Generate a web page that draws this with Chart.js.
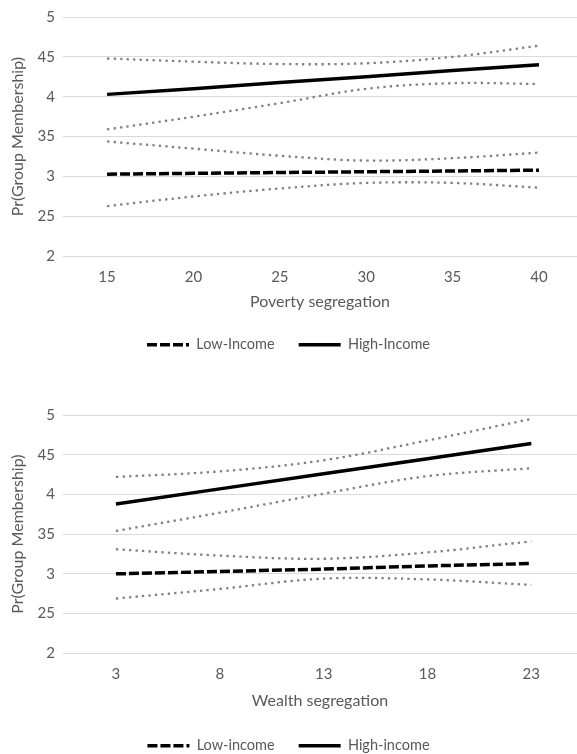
<!DOCTYPE html>
<html>
<head>
<meta charset="utf-8">
<script src="https://cdn.jsdelivr.net/npm/chart.js@4.4.1/dist/chart.umd.min.js"></script>
<style>
    html, body { margin: 0; padding: 0; background: #fff; }
    body { width: 577px; height: 754px; position: relative; overflow: hidden; }
    .panel { position: absolute; left: 0; width: 577px; }
    #panel-pobreza { top: 0; height: 362px; }
    #panel-riqueza { top: 395px; height: 368px; }
</style>
</head>
<body>
<div class="panel" id="panel-pobreza"><canvas id="grafico-pobreza"></canvas></div>
<div class="panel" id="panel-riqueza"><canvas id="grafico-riqueza"></canvas></div>
<script>
// eje Y (las etiquetas se ven sin punto decimal en el original)
const yTickValues = [0.2, 0.25, 0.3, 0.35, 0.4, 0.45, 0.5];
const yTickLabels = ['2', '25', '3', '35', '4', '45', '5'];

// gráfico 1: segregación por pobreza
const povertyX = [15, 20, 25, 30, 35, 40];
const povLowIncome = [0.303, 0.304, 0.305, 0.306, 0.307, 0.308];
const povHighIncome = [0.403, 0.410, 0.418, 0.425, 0.433, 0.440];
const povHighUpper = [0.448, 0.444, 0.441, 0.442, 0.450, 0.464];
const povHighLower = [0.359, 0.375, 0.392, 0.410, 0.417, 0.416];
const povLowUpper = [0.344, 0.335, 0.326, 0.320, 0.323, 0.330];
const povLowLower = [0.263, 0.275, 0.285, 0.292, 0.292, 0.286];

// gráfico 2: segregación por riqueza
const wealthX = [3, 8, 13, 18, 23];
const wLowIncome = [0.300, 0.303, 0.306, 0.310, 0.313];
const wHighIncome = [0.388, 0.407, 0.426, 0.445, 0.464];
const wHighUpper = [0.422, 0.429, 0.443, 0.468, 0.495];
const wHighLower = [0.354, 0.377, 0.401, 0.423, 0.433];
const wLowUpper = [0.331, 0.323, 0.319, 0.327, 0.341];
const wLowLower = [0.269, 0.281, 0.294, 0.293, 0.286];

const TEXTO = '#595959';
const FUENTE = 'Lato, "Open Sans", sans-serif';

function puntos(xs, ys) {
    return xs.map(function (x, i) { return { x: x, y: ys[i] }; });
}

function lineaPrincipal(label, xs, ys, dash) {
    return {
        label: label,
        data: puntos(xs, ys),
        borderColor: '#000',
        backgroundColor: '#000',
        borderWidth: 3.5,
        borderDash: dash,
        pointRadius: 0,
        tension: 0
    };
}

function lineaIntervalo(xs, ys) {
    return {
        label: '',
        data: puntos(xs, ys),
        borderColor: '#7f7f7f',
        borderWidth: 2.3,
        borderDash: [2.3, 4.2],
        pointRadius: 0,
        tension: 0.35
    };
}

// la leyenda con pointStyle no toma el borderDash del dataset, se lo pasamos a mano
function etiquetasLeyenda(chart) {
    const items = Chart.defaults.plugins.legend.labels.generateLabels(chart);
    return items
        .filter(function (item) { return item.datasetIndex < 2; })
        .map(function (item) {
            const ds = chart.data.datasets[item.datasetIndex];
            item.lineDash = ds.borderDash;
            item.lineWidth = ds.borderWidth;
            item.strokeStyle = ds.borderColor;
            item.fontColor = TEXTO;
            return item;
        });
}

function crearGrafico(canvasId, cfg) {
    const ctx = document.getElementById(canvasId).getContext('2d');
    return new Chart(ctx, {
        type: 'line',
        data: {
            datasets: [
                lineaPrincipal(cfg.etiquetas[0], cfg.x, cfg.low, [10, 3]),
                lineaPrincipal(cfg.etiquetas[1], cfg.x, cfg.high, []),
                lineaIntervalo(cfg.x, cfg.highUp),
                lineaIntervalo(cfg.x, cfg.highLo),
                lineaIntervalo(cfg.x, cfg.lowUp),
                lineaIntervalo(cfg.x, cfg.lowLo)
            ]
        },
        options: {
            responsive: true,
            maintainAspectRatio: false,
            animation: false,
            layout: {
                padding: { top: cfg.padTop, right: 0, left: 0, bottom: 0 }
            },
            scales: {
                x: {
                    type: 'linear',
                    min: cfg.xMin,
                    max: cfg.xMax,
                    afterBuildTicks: function (scale) {
                        scale.ticks = cfg.x.map(function (v) { return { value: v }; });
                    },
                    grid: { display: false, drawTicks: false },
                    border: { display: false },
                    ticks: {
                        color: TEXTO,
                        padding: 12,
                        maxRotation: 0,
                        font: { family: FUENTE, size: 15 }
                    },
                    title: {
                        display: true,
                        text: cfg.tituloX,
                        color: TEXTO,
                        padding: { top: cfg.tituloTop, bottom: cfg.tituloBottom },
                        font: { family: FUENTE, size: 16 }
                    }
                },
                y: {
                    min: 0.2,
                    max: 0.5,
                    afterBuildTicks: function (scale) {
                        scale.ticks = yTickValues.map(function (v) { return { value: v }; });
                    },
                    afterFit: function (scale) {
                        scale.width = 63;
                    },
                    grid: { color: '#d9d9d9', lineWidth: 1, drawTicks: false },
                    border: { display: false },
                    ticks: {
                        color: TEXTO,
                        padding: 8,
                        font: { family: FUENTE, size: 15 },
                        callback: function (value, index) {
                            return yTickLabels[index];
                        }
                    },
                    title: {
                        display: true,
                        text: 'Pr(Group Membership)',
                        color: TEXTO,
                        padding: { top: 8, bottom: 0 },
                        font: { family: FUENTE, size: 16 }
                    }
                }
            },
            plugins: {
                tooltip: { enabled: false },
                legend: {
                    position: 'bottom',
                    labels: {
                        generateLabels: etiquetasLeyenda,
                        usePointStyle: true,
                        pointStyle: 'line',
                        pointStyleWidth: 42,
                        padding: 24,
                        color: TEXTO,
                        font: { family: FUENTE, size: 14.5 }
                    }
                }
            }
        }
    });
}

crearGrafico('grafico-pobreza', {
    x: povertyX,
    low: povLowIncome, high: povHighIncome,
    highUp: povHighUpper, highLo: povHighLower,
    lowUp: povLowUpper, lowLo: povLowLower,
    xMin: 12.45, xMax: 42.2,
    tituloX: 'Poverty segregation',
    etiquetas: ['Low-Income', 'High-Income'],
    padTop: 17, tituloTop: -6, tituloBottom: 2
});

crearGrafico('grafico-riqueza', {
    x: wealthX,
    low: wLowIncome, high: wHighIncome,
    highUp: wHighUpper, highLo: wHighLower,
    lowUp: wLowUpper, lowLo: wLowLower,
    xMin: 0.45, xMax: 25.2,
    tituloX: 'Wealth segregation',
    etiquetas: ['Low-income', 'High-income'],
    padTop: 20, tituloTop: -4, tituloBottom: 4
});
</script>
</body>
</html>
